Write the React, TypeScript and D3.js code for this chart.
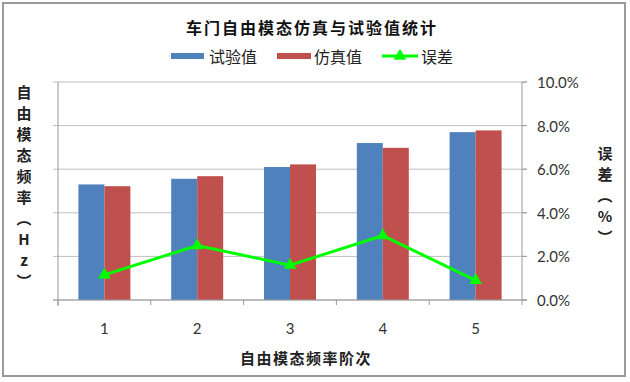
import React from "react";
import * as d3 from "d3";

const categories = ["1", "2", "3", "4", "5"];
const testValues = [26.5, 27.8, 30.5, 36.0, 38.5];
const simValues = [26.1, 28.4, 31.1, 34.9, 38.9];
const errorValues = [1.15, 2.5, 1.6, 2.95, 0.9];
const leftTicks = [0, 10, 20, 30, 40, 50];
const rightTicks = [0, 2, 4, 6, 8, 10];

const W = 630, H = 382;
const m = { left: 58, right: 522, top: 82, bottom: 300 };
const CJK = "'Noto Sans CJK SC', 'Noto Sans', sans-serif";
const NUM = "Lato, 'Open Sans', sans-serif";

export default function App() {
  const x = d3.scaleBand<string>().domain(categories).range([m.left, m.right]);
  const yL = d3.scaleLinear().domain([0, 50]).range([m.bottom, m.top]);
  const yR = d3.scaleLinear().domain([0, 10]).range([m.bottom, m.top]);
  const barW = 26;
  const line = d3
    .line<number>()
    .x((_, i) => x(categories[i])! + x.bandwidth() / 2)
    .y((d) => yR(d));
  const tri = d3.symbol().type(d3.symbolTriangle).size(70)();
  const leftTitle = ["自", "由", "模", "态", "频", "率", "︵", "H", "z", "︶"];
  const rightTitle = ["误", "差", "︵", "%", "︶"];
  const bounds = [...categories.map((c) => x(c)!), m.right];

  return (
    <div style={{ position: "absolute", left: 0, top: 0 }}>
      <svg width={W} height={H} style={{ display: "block", background: "#fff" }}>
        <rect x={3} y={3} width={622} height={373} fill="#fff" stroke="#9a9a9a" strokeWidth={2} />
        <text x={312} y={27} textAnchor="middle" dominantBaseline="central" fontFamily={CJK} fontWeight={700} fontSize={16} letterSpacing={2} fill="#111">
          车门自由模态仿真与试验值统计
        </text>
        {/* legend */}
        <rect x={171} y={53} width={33} height={6} fill="#4F81BD" />
        <text x={209} y={56} dominantBaseline="central" fontFamily={CJK} fontSize={16} fill="#222">试验值</text>
        <rect x={277} y={53} width={34} height={6} fill="#C0504D" />
        <text x={314} y={56} dominantBaseline="central" fontFamily={CJK} fontSize={16} fill="#222">仿真值</text>
        <line x1={382} x2={418} y1={56} y2={56} stroke="#00FF00" strokeWidth={3} />
        <path d={tri!} transform="translate(400,56)" fill="#00FF00" />
        <text x={421} y={56} dominantBaseline="central" fontFamily={CJK} fontSize={16} fill="#222">误差</text>

        {/* grid */}
        {leftTicks.map((t) => (
          <line key={"g" + t} x1={m.left - 5} x2={m.right + 5} y1={yL(t)} y2={yL(t)} stroke="#BFBFBF" strokeWidth={1} />
        ))}
        {/* bars */}
        {categories.map((c, i) => {
          const cx = x(c)! + x.bandwidth() / 2;
          return (
            <g key={c}>
              <rect x={cx - barW} y={yL(testValues[i])} width={barW} height={m.bottom - yL(testValues[i])} fill="#4F81BD" />
              <rect x={cx} y={yL(simValues[i])} width={barW} height={m.bottom - yL(simValues[i])} fill="#C0504D" />
            </g>
          );
        })}
        {/* axes */}
        <line x1={m.left} x2={m.left} y1={m.top} y2={m.bottom + 6} stroke="#9a9a9a" />
        <line x1={m.right} x2={m.right} y1={m.top} y2={m.bottom} stroke="#9a9a9a" />
        <line x1={m.left - 5} x2={m.right + 5} y1={m.bottom} y2={m.bottom} stroke="#9a9a9a" />
        {bounds.map((b, i) => (
          <line key={"bt" + i} x1={b} x2={b} y1={m.bottom} y2={m.bottom + 5} stroke="#9a9a9a" />
        ))}
        {rightTicks.map((t) => (
          <g key={"r" + t}>
            <line x1={m.right} x2={m.right + 5} y1={yR(t)} y2={yR(t)} stroke="#9a9a9a" />
            <text x={537} y={yR(t)} dominantBaseline="central" fontFamily={NUM} fontSize={15} fill="#333">
              {t.toFixed(1) + "%"}
            </text>
          </g>
        ))}
        {categories.map((c) => (
          <text key={"xl" + c} x={x(c)! + x.bandwidth() / 2} y={328} textAnchor="middle" dominantBaseline="central" fontFamily={NUM} fontSize={15} fill="#333">
            {c}
          </text>
        ))}
        {/* error line */}
        <path d={line(errorValues)!} fill="none" stroke="#00FF00" strokeWidth={3} />
        {errorValues.map((e, i) => (
          <path key={"m" + i} d={tri!} transform={`translate(${x(categories[i])! + x.bandwidth() / 2},${yR(e)})`} fill="#00FF00" />
        ))}
        {/* axis titles */}
        <text x={306} y={357} textAnchor="middle" dominantBaseline="central" fontFamily={CJK} fontWeight={700} fontSize={15} letterSpacing={1.5} fill="#222">
          自由模态频率阶次
        </text>
        {leftTitle.map((ch, i) => (
          <text key={"lt" + i} x={24} y={91 + i * 21} textAnchor="middle" dominantBaseline="central" fontFamily={CJK} fontWeight={700} fontSize={15} fill="#222">
            {ch}
          </text>
        ))}
        {rightTitle.map((ch, i) => (
          <text key={"rt" + i} x={605} y={152 + i * 21} textAnchor="middle" dominantBaseline="central" fontFamily={CJK} fontWeight={700} fontSize={15} fill="#222">
            {ch}
          </text>
        ))}
      </svg>
    </div>
  );
}
